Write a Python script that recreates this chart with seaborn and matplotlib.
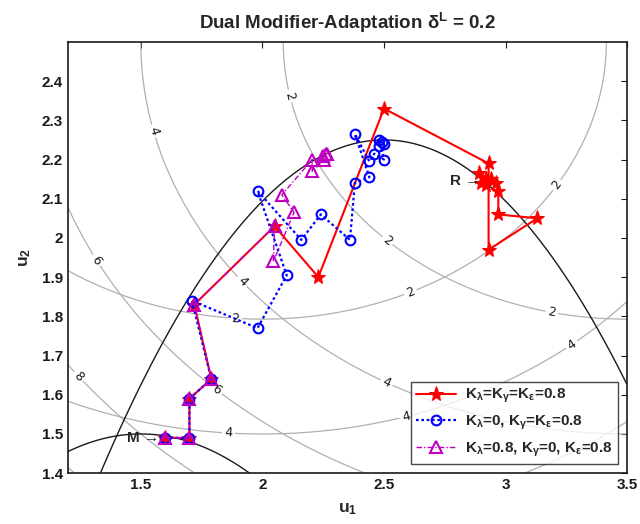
import numpy as np
import matplotlib
matplotlib.use("Agg")
import matplotlib.pyplot as plt
from matplotlib.ticker import FormatStrFormatter
import seaborn as sns

# ---- trajectories (u1, u2) for the three filter settings ----
red_u1 = [1.60, 1.70, 1.70, 1.79, 1.72, 2.05, 2.23, 2.50, 2.93, 2.93, 3.13,
          2.97, 2.97, 2.96, 2.94, 2.89, 2.92, 2.90, 2.92]
red_u2 = [1.49, 1.49, 1.59, 1.64, 1.83, 2.03, 1.90, 2.33, 2.19, 1.97, 2.05,
          2.06, 2.12, 2.14, 2.15, 2.165, 2.15, 2.14, 2.135]

blue_u1 = [1.60, 1.70, 1.70, 1.79, 1.71, 1.98, 2.10, 1.98, 2.16, 2.24, 2.36,
           2.38, 2.44, 2.38, 2.44, 2.46, 2.50, 2.48, 2.48, 2.50, 2.49]
blue_u2 = [1.49, 1.49, 1.59, 1.64, 1.84, 1.77, 1.905, 2.12, 1.995, 2.06, 1.995,
           2.14, 2.155, 2.265, 2.195, 2.215, 2.20, 2.25, 2.235, 2.24, 2.245]

mag_u1 = [1.60, 1.70, 1.70, 1.79, 1.72, 2.05, 2.045, 2.13, 2.08, 2.205, 2.205,
          2.255, 2.25, 2.26, 2.265]
mag_u2 = [1.49, 1.49, 1.59, 1.64, 1.83, 2.03, 1.94, 2.065, 2.11, 2.20, 2.17,
          2.20, 2.21, 2.215, 2.215]

series_labels = [r"K$_\lambda$=K$_\gamma$=K$_\varepsilon$=0.8",
                 r"K$_\lambda$=0, K$_\gamma$=K$_\varepsilon$=0.8",
                 r"K$_\lambda$=0.8, K$_\gamma$=0, K$_\varepsilon$=0.8"]

# model and plant optima
model_opt = (1.60, 1.49)
plant_opt = (2.92, 2.145)

# cost / constraint parameters
plant_cost_center = (3.5, 2.5)
model_cost_center = (2.0, 2.5)
cost_levels = [2, 4, 6, 8, 10]
plant_con = (2.5, 2.25, 1.6)   # vertex u1, vertex u2, curvature divisor
model_con = (1.5, 1.5, 2.0)

x_ticks = [1.5, 2, 2.5, 3, 3.5]
y_ticks = [1.4, 1.5, 1.6, 1.7, 1.8, 1.9, 2.0, 2.1, 2.2, 2.3, 2.4]

sns.set_theme(style="white")
plt.rcParams["font.family"] = ["Liberation Sans", "DejaVu Sans"]
plt.rcParams["font.weight"] = "bold"
plt.rcParams["axes.titleweight"] = "bold"
plt.rcParams["axes.labelweight"] = "bold"
plt.rcParams["mathtext.fontset"] = "custom"
plt.rcParams["mathtext.rm"] = "Liberation Sans:bold"
plt.rcParams["mathtext.it"] = "Liberation Sans:bold"
plt.rcParams["mathtext.bf"] = "Liberation Sans:bold"
plt.rcParams["mathtext.default"] = "bf"

fig = plt.figure(figsize=(6.4, 5.24), dpi=100)
ax = fig.add_axes([0.106, 0.097, 0.874, 0.823])

g1 = np.linspace(1.2, 3.5, 400)
g2 = np.linspace(1.4, 2.5, 400)
U1, U2 = np.meshgrid(g1, g2)

phi_p = (U1 - plant_cost_center[0]) ** 2 + 4 * (U2 - plant_cost_center[1]) ** 2
phi_m = (U1 - model_cost_center[0]) ** 2 + 4 * (U2 - model_cost_center[1]) ** 2
G_p = (U1 - plant_con[0]) ** 2 + plant_con[2] * (U2 - plant_con[1])
G_m = (U1 - model_con[0]) ** 2 + model_con[2] * (U2 - model_con[1])

gray = "#b0b0b0"
cp = ax.contour(U1, U2, phi_p, levels=cost_levels, colors=gray, linewidths=0.9)
cm = ax.contour(U1, U2, phi_m, levels=cost_levels, colors=gray, linewidths=0.9)
lab_kw = dict(fmt="%g", fontsize=9, colors="k", inline=True, inline_spacing=3)
ax.clabel(cp, manual=[(2.10, 2.36), (2.51, 1.99), (3.19, 1.81),
                      (1.54, 2.27), (1.91, 1.885), (2.51, 1.63),
                      (1.31, 1.94), (1.81, 1.61), (1.24, 1.645)], **lab_kw)
ax.clabel(cm, manual=[(1.89, 1.79), (2.61, 1.86), (3.20, 2.14),
                      (1.86, 1.50), (2.59, 1.545), (3.27, 1.73)], **lab_kw)
for t in ax.texts:
    t.set_fontweight("normal")
    t.set_family("DejaVu Sans")

ax.contour(U1, U2, G_p, levels=[0], colors="k", linewidths=1.0)
ax.contour(U1, U2, G_m, levels=[0], colors="k", linewidths=1.0)

sns.lineplot(x=red_u1, y=red_u2, sort=False, estimator=None, ax=ax,
             color="#ff0000", linewidth=1.5, marker="*", markersize=11,
             markeredgecolor="#ff0000", markerfacecolor="#ff0000",
             label=series_labels[0])
sns.lineplot(x=blue_u1, y=blue_u2, sort=False, estimator=None, ax=ax,
             color="#0000ff", linewidth=1.6, linestyle=(0, (1.2, 1.2)),
             marker="o", markersize=7, markerfacecolor="none",
             markeredgecolor="#0000ff", markeredgewidth=1.5,
             label=series_labels[1])
sns.lineplot(x=mag_u1, y=mag_u2, sort=False, estimator=None, ax=ax,
             color="#c000c0", linewidth=1.0, linestyle=(0, (4, 1.5, 1, 1.5)),
             marker="^", markersize=8, markerfacecolor="none",
             markeredgecolor="#c000c0", markeredgewidth=1.5,
             label=series_labels[2])

ax.annotate("M \u2192", xy=model_opt, xytext=(-4, 0), textcoords="offset points",
            ha="right", va="center", fontsize=11, fontweight="bold")
ax.annotate("R \u2192", xy=plant_opt, xytext=(-4, 0), textcoords="offset points",
            ha="right", va="center", fontsize=11, fontweight="bold")

ax.set_xlim(1.2, 3.5)
ax.set_ylim(1.4, 2.5)
ax.set_xticks(x_ticks)
ax.set_yticks(y_ticks)
ax.xaxis.set_major_formatter(FormatStrFormatter("%g"))
ax.yaxis.set_major_formatter(FormatStrFormatter("%g"))
ax.tick_params(direction="in", length=4, width=0.8, top=True, right=True,
               labelsize=11, colors="k")
for s in ax.spines.values():
    s.set_color("k")
    s.set_linewidth(1.2)

ax.set_xlabel(r"u$_1$", fontsize=12.5, labelpad=7)
ax.set_ylabel(r"u$_2$", fontsize=12.5, labelpad=6)
ax.set_title(r"Dual Modifier-Adaptation $\delta^L$ = 0.2", fontsize=13.5, pad=9)

leg = ax.legend(loc="lower right", fontsize=11, frameon=True, fancybox=False,
                borderaxespad=0.6, handlelength=2.6, labelspacing=0.55,
                borderpad=0.35, handletextpad=0.6)
leg.get_frame().set_edgecolor("k")
leg.get_frame().set_linewidth(1.0)

fig.savefig("out.png", dpi=100)
